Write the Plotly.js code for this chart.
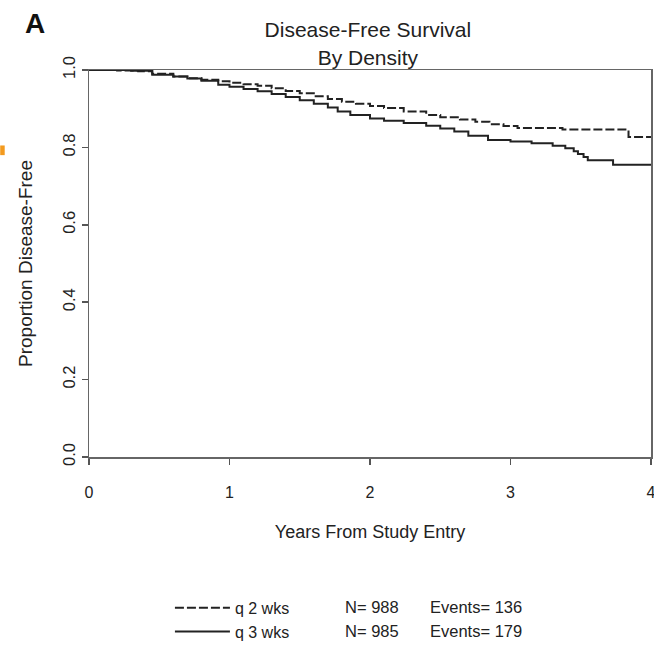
<!DOCTYPE html>
<html>
<head>
<meta charset="utf-8">
<script src="https://cdn.plot.ly/plotly-3.0.1.min.js"></script>
<style>html,body{margin:0;padding:0;background:#fff;}#chart{width:654px;height:645px;}</style>
</head>
<body>
<div id="chart"></div>
<script>
// q 2 wks (dashed)
var years2 = [0, 0.20, 0.35, 0.45, 0.60, 0.70, 0.80, 0.92, 1.00, 1.10, 1.20, 1.30, 1.40, 1.50, 1.60, 1.70, 1.80, 1.90, 2.00, 2.10, 2.24, 2.40, 2.50, 2.64, 2.75, 2.85, 2.95, 3.05, 3.37, 3.84, 4.00];
var surv2  = [1.000, 0.999, 0.997, 0.990, 0.983, 0.979, 0.975, 0.971, 0.967, 0.963, 0.959, 0.953, 0.946, 0.940, 0.932, 0.925, 0.918, 0.913, 0.907, 0.902, 0.893, 0.884, 0.878, 0.872, 0.866, 0.860, 0.855, 0.850, 0.846, 0.827, 0.827];
// q 3 wks (solid)
var years3 = [0, 0.30, 0.45, 0.60, 0.70, 0.80, 0.92, 1.00, 1.10, 1.20, 1.30, 1.40, 1.50, 1.60, 1.70, 1.77, 1.86, 2.00, 2.10, 2.24, 2.40, 2.50, 2.60, 2.70, 2.84, 3.00, 3.15, 3.30, 3.39, 3.45, 3.48, 3.52, 3.55, 3.73, 4.00];
var surv3  = [1.000, 0.998, 0.988, 0.983, 0.978, 0.972, 0.962, 0.957, 0.951, 0.945, 0.938, 0.930, 0.922, 0.913, 0.903, 0.893, 0.884, 0.875, 0.869, 0.863, 0.856, 0.849, 0.841, 0.830, 0.819, 0.815, 0.811, 0.804, 0.798, 0.790, 0.783, 0.775, 0.767, 0.755, 0.755];

var groupNames = ["q 2 wks", "q 3 wks"];
var groupN = [988, 985];
var groupEvents = [136, 179];
var xTicks = [0, 1, 2, 3, 4];
var yTicks = [0.0, 0.2, 0.4, 0.6, 0.8, 1.0];

var FONT = "Liberation Sans, Arial, Helvetica, sans-serif";
var INK = "#222";

var traces = [
  {x: years2, y: surv2, type: "scatter", mode: "lines", name: groupNames[0],
   line: {shape: "hv", color: INK, width: 2, dash: "9px,3px"}},
  {x: years3, y: surv3, type: "scatter", mode: "lines", name: groupNames[1],
   line: {shape: "hv", color: INK, width: 2}}
];

var rowY = [-0.388, -0.450];
var annotations = [
  {text: "<b>A</b>", xref: "paper", yref: "paper", x: -0.118, y: 1.121, xanchor: "left", yanchor: "middle",
   showarrow: false, font: {family: FONT, size: 28, color: "#111"}}
];
for (var i = 0; i < 2; i++) {
  annotations.push({text: "N= " + groupN[i], xref: "paper", yref: "paper", x: 0.452, y: rowY[i],
    xanchor: "left", yanchor: "middle", showarrow: false, font: {family: FONT, size: 16.5, color: INK}});
  annotations.push({text: "Events= " + groupEvents[i], xref: "paper", yref: "paper", x: 0.603, y: rowY[i],
    xanchor: "left", yanchor: "middle", showarrow: false, font: {family: FONT, size: 16.5, color: INK}});
}

var layout = {
  width: 654, height: 645,
  margin: {l: 89, r: 3, t: 70, b: 188, pad: 0, autoexpand: false},
  paper_bgcolor: "#fff", plot_bgcolor: "#fff",
  font: {family: FONT, color: INK},
  title: {text: "Disease-Free Survival<br>By Density", x: 0.5625, xanchor: "center",
          y: 0.942, yanchor: "top", font: {family: FONT, size: 21, color: INK}},
  xaxis: {range: [0, 4], tickvals: xTicks, ticktext: xTicks.map(String), ticks: "outside", ticklen: 6,
          tickcolor: "#555", tickwidth: 1.5, showline: true, mirror: true, linecolor: "#666", linewidth: 1.5,
          showgrid: false, zeroline: false, tickfont: {family: FONT, size: 16, color: INK},
          ticklabelstandoff: 14, automargin: false, ticklabeloverflow: "allow",
          title: {text: "Years From Study Entry", font: {family: FONT, size: 18, color: INK}, standoff: 25}},
  yaxis: {range: [0, 1], tickvals: yTicks, ticktext: yTicks.map(function(v){return v.toFixed(1);}),
          ticks: "outside", ticklen: 6, tickcolor: "#555", tickwidth: 1.5, tickangle: -90,
          showline: true, mirror: true, linecolor: "#666", linewidth: 1.5, automargin: false,
          showgrid: false, zeroline: false, tickfont: {family: FONT, size: 16.5, color: INK},
          title: {text: "Proportion Disease-Free", font: {family: FONT, size: 19, color: INK}, standoff: 22}},
  showlegend: true,
  legend: {x: 0.144, y: -0.346, xanchor: "left", yanchor: "top", itemwidth: 55, tracegroupgap: 0,
           font: {family: FONT, size: 16, color: INK}, bgcolor: "rgba(0,0,0,0)"},
  annotations: annotations,
  shapes: [
    {type: "rect", xref: "paper", yref: "paper", x0: -0.158, x1: -0.150, y0: 0.78, y1: 0.805,
     fillcolor: "#f39a1e", line: {width: 0}}
  ]
};

Plotly.newPlot("chart", traces, layout, {displayModeBar: false, staticPlot: true});
</script>
</body>
</html>
